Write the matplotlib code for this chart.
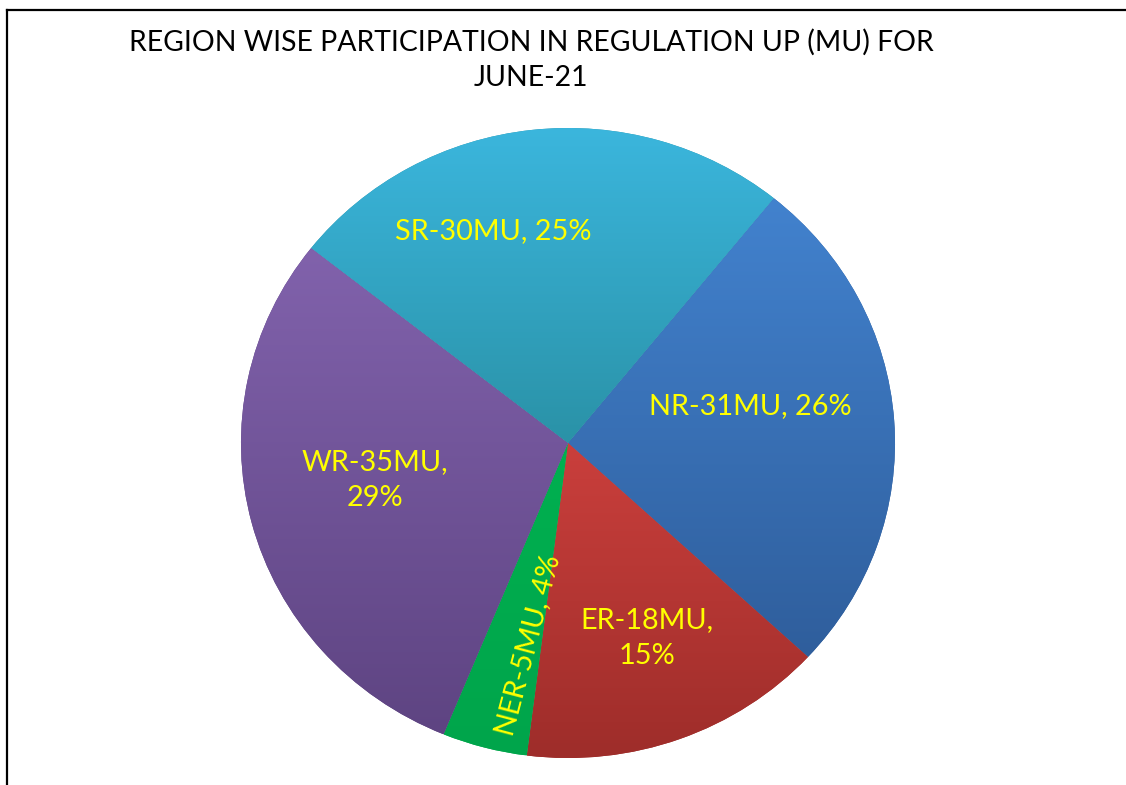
import numpy as np
import matplotlib.pyplot as plt
from matplotlib.colors import LinearSegmentedColormap
from matplotlib.lines import Line2D

regions = ['NR', 'ER', 'NER', 'WR', 'SR']
mu = [31, 18, 5, 35, 30]
pct = [26, 15, 4, 29, 25]
title_lines = ['REGION WISE PARTICIPATION IN REGULATION UP (MU) FOR', 'JUNE-21']

# light (top) / dark (bottom) gradient per wedge
shades = [('#4282ce', '#2f5e9c'), ('#ca3f3c', '#9e2d2a'), ('#00b050', '#00a54b'),
          ('#8162ac', '#5e4482'), ('#3bb6dd', '#2a92a7')]

plt.rcParams['font.family'] = ['Lato', 'DejaVu Sans']

fig = plt.figure(figsize=(11.26, 7.85), dpi=100)
ax = fig.add_axes([241 / 1126, 27 / 785, 654 / 1126, 630 / 785])

wedges, _ = ax.pie(mu, startangle=51, counterclock=False, radius=1,
                   wedgeprops=dict(linewidth=0))
ax.set_aspect('auto')

# gradient fill clipped to each wedge
for w, (light, dark) in zip(wedges, shades):
    w.set_facecolor(dark)
    w.set_zorder(0.5)
    ext = w.get_path().get_extents()
    cmap = LinearSegmentedColormap.from_list('g', [dark, light])
    grad = np.linspace(0, 1, 256).reshape(-1, 1)
    im = ax.imshow(grad, cmap=cmap, origin='lower', aspect='auto',
                   extent=[ext.x0, ext.x1, ext.y0, ext.y1], zorder=1)
    im.set_clip_path(w)
ax.set_xlim(-1, 1)
ax.set_ylim(-1, 1)

# label placement (pie units) and layout
label_pos = [(0.557, 0.117), (0.242, -0.619), (-0.122, -0.641), (-0.590, -0.117), (-0.229, 0.673)]
label_text = [f'{r}-{m}MU, {p}%' for r, m, p in zip(regions, mu, pct)]
label_text[1] = label_text[1].replace(', ', ',\n')
label_text[3] = label_text[3].replace(', ', ',\n')

# NER label runs along the radius of its wedge
angles = [(w.theta1 + w.theta2) / 2 for w in wedges]
rots = [0, 0, angles[2] + 180, 0, 0]

for (x, y), t, rot in zip(label_pos, label_text, rots):
    ax.text(x, y, t, ha='center', va='center', color='#ffff00', fontsize=20.8,
            rotation=rot, rotation_mode='anchor', linespacing=1.5, zorder=3)

for i, line in enumerate(title_lines):
    fig.text(531 / 1126, 1 - (42 + 36 * i) / 785, line, ha='center', va='center',
             fontsize=20.4, color='black')

# outer frame (left and top edges visible)
fig.add_artist(Line2D([6.5 / 1126, 6.5 / 1126], [0, 1 - 10 / 785], color='black', lw=1.6,
                      transform=fig.transFigure))
fig.add_artist(Line2D([6.5 / 1126, 1], [1 - 10 / 785, 1 - 10 / 785], color='black', lw=1.6,
                      transform=fig.transFigure))

fig.savefig('out.png', dpi=100)
